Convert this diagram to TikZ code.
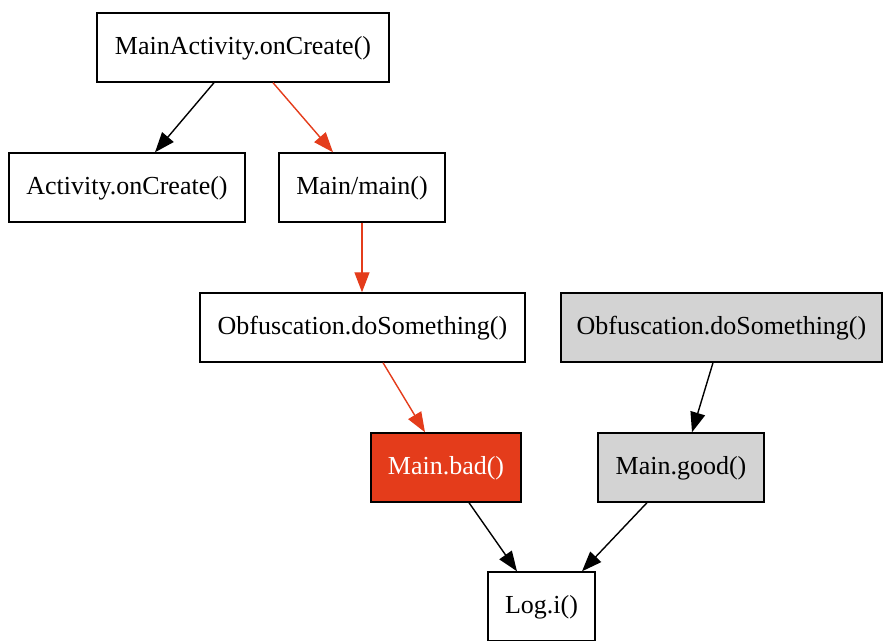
\documentclass[tikz,border=0pt]{standalone}
\usepackage{fontspec}
\setmainfont{Liberation Serif}
\usetikzlibrary{arrows.meta}
\definecolor{badred}{HTML}{E43C1B}
\definecolor{gvgray}{HTML}{D3D3D3}
\begin{document}
\begin{tikzpicture}[x=1pt,y=1pt,
  box/.style={draw=black,line width=1.4pt,rectangle,minimum height=69pt,inner sep=0pt,text height=18pt,text depth=3.5pt,font=\fontsize{26}{30}\selectfont},
  edge/.style={line width=1.4pt,-{Triangle[length=20pt,width=15pt]}},
  rededge/.style={edge,draw=badred,fill=badred}]
\useasboundingbox (0,0) rectangle (883,640);
\node[box,minimum width=292pt] (mac) at (243,592.5) {MainActivity.onCreate()};
\node[box,minimum width=236pt] (act) at (127,452.5) {Activity.onCreate()};
\node[box,minimum width=166pt] (mm) at (362,452.5) {Main/main()};
\node[box,minimum width=325pt] (obw) at (362.5,312.5) {Obfuscation.doSomething()};
\node[box,minimum width=321pt,fill=gvgray] (obg) at (721.5,312.5) {Obfuscation.doSomething()};
\node[box,minimum width=150pt,fill=badred,text=white] (bad) at (446,172.5) {Main.bad()};
\node[box,minimum width=166pt,fill=gvgray] (good) at (681,172.5) {Main.good()};
\node[box,minimum width=107pt] (log) at (541.5,33.5) {Log.i()};
\draw[edge] ([xshift=-29pt]mac.south) -- ([xshift=28pt]act.north);
\draw[rededge] ([xshift=30pt]mac.south) -- ([xshift=-29pt]mm.north);
\draw[rededge] (mm.south) -- (obw.north -| mm.south);
\draw[rededge] ([xshift=20.5pt]obw.south) -- ([xshift=-21pt]bad.north);
\draw[edge] ([xshift=-8.5pt]obg.south) -- ([xshift=11pt]good.north);
\draw[edge] ([xshift=23pt]bad.south) -- ([xshift=-24.5pt]log.north);
\draw[edge] ([xshift=-34pt]good.south) -- ([xshift=40.5pt]log.north);
\end{tikzpicture}
\end{document}
